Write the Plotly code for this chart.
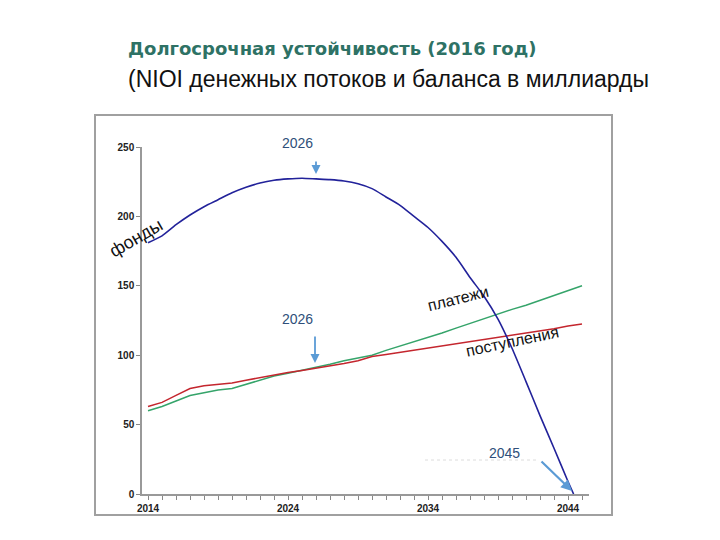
import plotly.graph_objects as go

years_fund = list(range(2014, 2045)) + [2044.4]
fund = [181, 186, 194, 201, 207, 212, 217, 221, 224, 226, 227, 227.5, 227, 226.5, 225.5,
        223.5, 220, 214, 208, 200, 192, 182, 170.5, 156, 142.5, 126, 105, 81, 56.5, 33, 9, 0]

years_flow = list(range(2014, 2046))
payments = [60, 63, 67, 71, 73, 75, 76, 79, 82, 85, 87, 89, 91, 93.5, 96, 98, 100, 103.5,
            106.5, 110, 113, 116, 119.5, 123, 126, 129.5, 133, 136, 139.5, 143, 146, 150]
receipts = [63, 66, 71, 76, 78, 79, 80, 82, 84, 86, 87.5, 89, 90.5, 92, 94, 96, 99, 100.5,
            102, 103.5, 105, 106.5, 108, 109.5, 111, 112.5, 114, 115.5, 117.5, 119, 121, 122.5]

x_ticks = [2014, 2024, 2034, 2044]
y_ticks = [0, 50, 100, 150, 200, 250]

W, H = 720, 540
def px(x):
    return x / W
def py(y):
    return (H - y) / H

fig = go.Figure()
fig.add_trace(go.Scatter(x=years_flow, y=payments, mode="lines",
                         line=dict(color="#35a46a", width=1.5), cliponaxis=False))
fig.add_trace(go.Scatter(x=years_flow, y=receipts, mode="lines",
                         line=dict(color="#c4262e", width=1.5), cliponaxis=False))
fig.add_trace(go.Scatter(x=years_fund, y=fund, mode="lines",
                         line=dict(color="#22229a", width=1.6, shape="spline", smoothing=0.6),
                         cliponaxis=False))

axis_font = dict(family="Liberation Sans, Arial", size=10, color="#222")
fig.update_layout(
    width=W, height=H, margin=dict(l=0, r=0, t=0, b=0),
    paper_bgcolor="white", plot_bgcolor="white", showlegend=False,
    xaxis=dict(domain=[px(142), px(589)], range=[2013.57, 2045.5],
               tickvals=x_ticks, ticktext=[f"<b>{v}</b>" for v in x_ticks],
               ticks="outside", ticklen=4, tickcolor="#888",
               minor=dict(dtick=1, tick0=2014, ticks="outside", ticklen=4, tickcolor="#888"),
               showgrid=False, zeroline=False, showline=True, linecolor="#999", linewidth=1.5,
               tickfont=axis_font, automargin=False),
    yaxis=dict(domain=[py(494), py(147)], range=[0, 250],
               tickvals=y_ticks, ticktext=[f"<b>{v}</b>" for v in y_ticks],
               ticks="outside", ticklen=4, tickcolor="#888",
               showgrid=False, zeroline=False, showline=True, linecolor="#999", linewidth=1.5,
               tickfont=axis_font, automargin=False),
)

# frame
fig.add_shape(type="rect", xref="paper", yref="paper",
              x0=px(95), x1=px(612), y0=py(515), y1=py(115),
              line=dict(color="#a0a0a0", width=2))

# titles
fig.add_annotation(xref="paper", yref="paper", x=px(126), y=py(48),
                   xanchor="left", yanchor="middle", showarrow=False,
                   text="<b>Долгосрочная устойчивость (2016 год)</b>",
                   font=dict(family="DejaVu Sans", size=18, color="#2e7265"))
fig.add_annotation(xref="paper", yref="paper", x=px(126), y=py(79),
                   xanchor="left", yanchor="middle", showarrow=False,
                   text="(NIOI денежных потоков и баланса в миллиарды",
                   font=dict(family="Liberation Sans, Arial", size=23, color="#111"))

# series labels
lab_font = dict(family="Liberation Sans, Arial", color="#111")
fig.add_annotation(xref="paper", yref="paper", x=px(136), y=py(238),
                   xanchor="center", yanchor="middle",
                   showarrow=False, text="фонды", textangle=-30,
                   font=dict(size=18, **lab_font))
fig.add_annotation(xref="paper", yref="paper", x=px(458), y=py(298),
                   xanchor="center", yanchor="middle",
                   showarrow=False, text="платежи", textangle=-14,
                   font=dict(size=16, **lab_font))
fig.add_annotation(xref="paper", yref="paper", x=px(512), y=py(341),
                   xanchor="center", yanchor="middle",
                   showarrow=False, text="поступления", textangle=-12,
                   font=dict(size=16, **lab_font))

# year callouts
call_font = dict(family="Liberation Sans, Arial", size=14, color="#2f4f7a")
arrow_col = "#5b9bd5"
for cx, cy, txt in [(297, 143, "2026"), (297, 319, "2026"), (505, 453, "2045")]:
    fig.add_annotation(xref="paper", yref="paper", x=px(cx), y=py(cy),
                       xanchor="center", yanchor="middle",
                       showarrow=False, text=txt, font=call_font)

fig.add_annotation(xref="paper", yref="paper",
                   x=px(316), y=py(174), ax=0, ay=-14,
                   showarrow=True, arrowhead=2, arrowsize=1, arrowwidth=1.8,
                   arrowcolor=arrow_col, text="")
fig.add_annotation(xref="paper", yref="paper",
                   x=px(315), y=py(363), ax=0, ay=-28,
                   showarrow=True, arrowhead=2, arrowsize=1, arrowwidth=1.8,
                   arrowcolor=arrow_col, text="")
fig.add_annotation(xref="paper", yref="paper",
                   x=px(572), y=py(491), ax=-32, ay=-31,
                   showarrow=True, arrowhead=2, arrowsize=1, arrowwidth=2.2,
                   arrowcolor=arrow_col, text="")

# faint dotted leader line
fig.add_shape(type="line", xref="paper", yref="paper",
              x0=px(425), x1=px(538), y0=py(460), y1=py(460),
              line=dict(color="#dcdcdc", width=1, dash="dot"))

fig.write_html("out.html", config={"displayModeBar": False},
               post_script="document.body.style.margin='0px';")
